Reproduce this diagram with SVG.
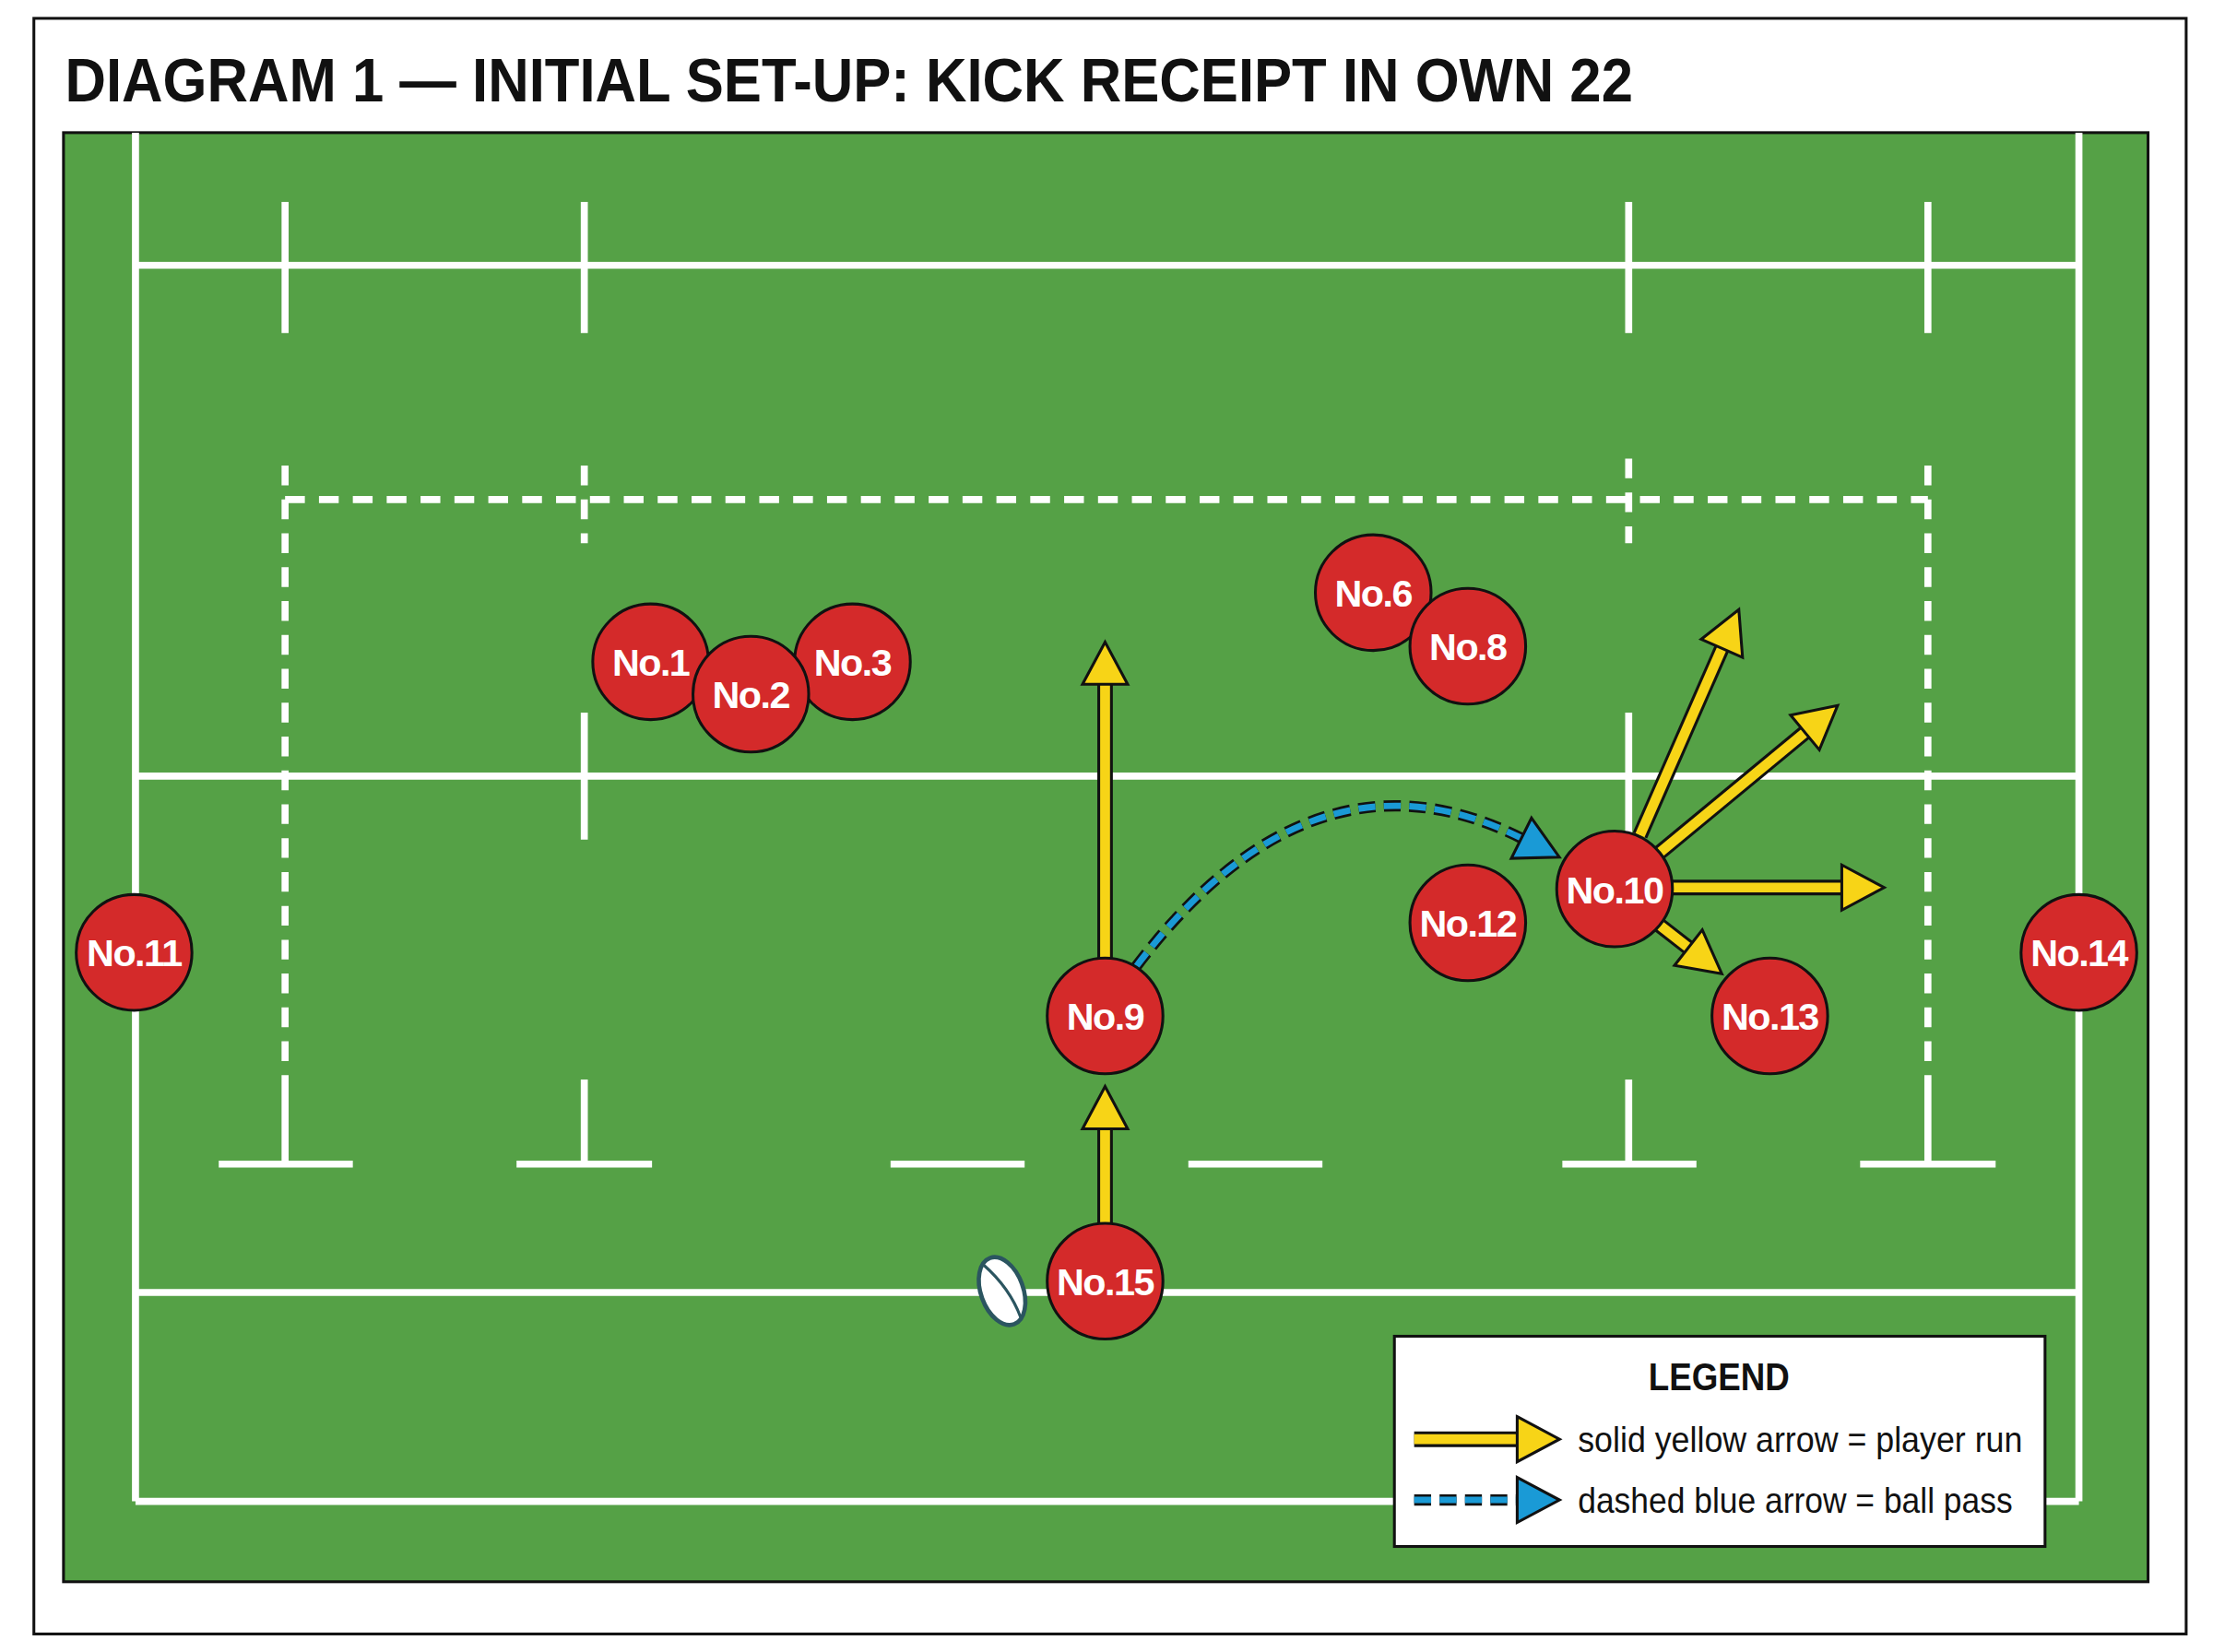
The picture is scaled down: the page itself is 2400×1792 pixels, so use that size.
<svg xmlns="http://www.w3.org/2000/svg" width="2400" height="1792" viewBox="0 0 2400 1792">
<defs>
<style>
.w{stroke:#fff;stroke-width:5;fill:none}
.wd{stroke:#fff;stroke-width:5;fill:none;stroke-dasharray:14 10}
.p circle{fill:#d42a2a;stroke:#111;stroke-width:2}
.p text{fill:#fff;font-family:"Liberation Sans",Arial,sans-serif;font-weight:bold;font-size:27px;text-anchor:middle;letter-spacing:-1px}
.yb{stroke:#111;stroke-width:11;fill:none}
.yy{stroke:#f7d417;stroke-width:7;fill:none;marker-end:url(#yh)}
.bb{stroke:#111;stroke-width:8;fill:none;stroke-dasharray:12 6}
.bl{stroke:#1a9ad6;stroke-width:4.5;fill:none;stroke-dasharray:12 6}
.lt{font-family:"Liberation Sans",Arial,sans-serif;font-size:25px;fill:#111}
</style>
<marker id="yh" markerUnits="userSpaceOnUse" viewBox="-2 -20 36 40" refX="0" refY="0" markerWidth="36" markerHeight="40" orient="auto" overflow="visible">
<path d="M0,-16 L30,0 L0,16 Z" fill="#f7d417" stroke="#111" stroke-width="2" stroke-linejoin="miter"/>
</marker>
<marker id="bh" markerUnits="userSpaceOnUse" viewBox="-2 -20 36 40" refX="0" refY="0" markerWidth="36" markerHeight="40" orient="auto" overflow="visible">
<path d="M0,-16 L30,0 L0,16 Z" fill="#1a9ad6" stroke="#111" stroke-width="2"/>
</marker>
</defs>
<rect width="2400" height="1792" fill="#fff"/>
<g transform="scale(1.5306)">
<rect x="24" y="13" width="1525" height="1145" fill="#fff" stroke="#111" stroke-width="2"/>
<text x="46" y="72" font-family="'Liberation Sans',Arial,sans-serif" font-weight="bold" font-size="44" textLength="1111" lengthAdjust="spacingAndGlyphs" fill="#111">DIAGRAM 1 — INITIAL SET-UP: KICK RECEIPT IN OWN 22</text>
<g id="field">
<rect x="45" y="94" width="1477" height="1027" fill="#55a146" stroke="#111" stroke-width="2"/>
<path class="w" d="M96,94V1064M1473,94V1064M96,188H1473M96,550H1473M96,916H1473M96,1064H1473"/>
<path class="w" d="M202,143V236M414,143V236M1154,143V236M1366,143V236"/>
<path class="wd" d="M202,354H1366M202,330V765M1366,330V765M414,330V385M1154,325V385"/>
<path class="w" d="M414,505V595M1154,505V595M202,765V825M414,765V825M1154,765V825M1366,765V825M155,825H250M366,825H462M631,825H726M842,825H937M1107,825H1202M1318,825H1414"/>
</g>
<g id="connectors">
<path class="yb" d="M783,867V800"/><path class="yy" d="M783,867V800"/>
<path class="yb" d="M783,680V485"/><path class="yy" d="M783,680V485"/>
<path class="yb" d="M1162,592L1220,459.5"/><path class="yy" d="M1162,592L1220,459.5"/>
<path class="yb" d="M1175,605L1278.9,519.1"/><path class="yy" d="M1175,605L1278.9,519.1"/>
<path class="yb" d="M1185,629H1305"/><path class="yy" d="M1185,629H1305"/>
<path class="yb" d="M1175,655L1196.3,671.6"/><path class="yy" d="M1175,655L1196.3,671.6"/>
<path class="bb" d="M805,685Q930,520 1078,594"/><path class="bl" d="M805,685Q930,520 1078,594" marker-end="url(#bh)"/>
</g>
<g id="ball">
<ellipse cx="710" cy="915" rx="15" ry="25" transform="rotate(-20 710 915)" fill="#fff" stroke="#2b5560" stroke-width="3"/>
<path d="M704,893Q716,915 716,937" fill="none" stroke="#2b5560" stroke-width="2" transform="rotate(-20 710 915)"/>
</g>
<g id="n1" class="p"><circle cx="461" cy="469" r="41"/><text x="461" y="479">No.1</text></g>
<g id="n3" class="p"><circle cx="604" cy="469" r="41"/><text x="604" y="479">No.3</text></g>
<g id="n2" class="p"><circle cx="532" cy="492" r="41"/><text x="532" y="502">No.2</text></g>
<g id="n6" class="p"><circle cx="973" cy="420" r="41"/><text x="973" y="430">No.6</text></g>
<g id="n8" class="p"><circle cx="1040" cy="458" r="41"/><text x="1040" y="468">No.8</text></g>
<g id="n9" class="p"><circle cx="783" cy="720" r="41"/><text x="783" y="730">No.9</text></g>
<g id="n12" class="p"><circle cx="1040" cy="654" r="41"/><text x="1040" y="664">No.12</text></g>
<g id="n10" class="p"><circle cx="1144" cy="630" r="41"/><text x="1144" y="640">No.10</text></g>
<g id="n13" class="p"><circle cx="1254" cy="720" r="41"/><text x="1254" y="730">No.13</text></g>
<g id="n11" class="p"><circle cx="95" cy="675" r="41"/><text x="95" y="685">No.11</text></g>
<g id="n14" class="p"><circle cx="1473" cy="675" r="41"/><text x="1473" y="685">No.14</text></g>
<g id="n15" class="p"><circle cx="783" cy="908" r="41"/><text x="783" y="918">No.15</text></g>
<g id="legend">
<rect x="988" y="947" width="461" height="149" fill="#fff" stroke="#111" stroke-width="2"/>
<text x="1218" y="985" text-anchor="middle" font-family="'Liberation Sans',Arial,sans-serif" font-weight="bold" font-size="28" fill="#111" textLength="100" lengthAdjust="spacingAndGlyphs">LEGEND</text>
<path class="yb" d="M1002,1020H1075"/><path class="yy" d="M1002,1020H1075"/>
<path class="bb" d="M1002,1063H1075" stroke-dasharray="10 5"/><path class="bl" d="M1002,1063H1075" stroke-dasharray="10 5" marker-end="url(#bh)"/>
<text class="lt" x="1118" y="1029" textLength="315" lengthAdjust="spacingAndGlyphs">solid yellow arrow = player run</text>
<text class="lt" x="1118" y="1072" textLength="308" lengthAdjust="spacingAndGlyphs">dashed blue arrow = ball pass</text>
</g>
</g>
</svg>
